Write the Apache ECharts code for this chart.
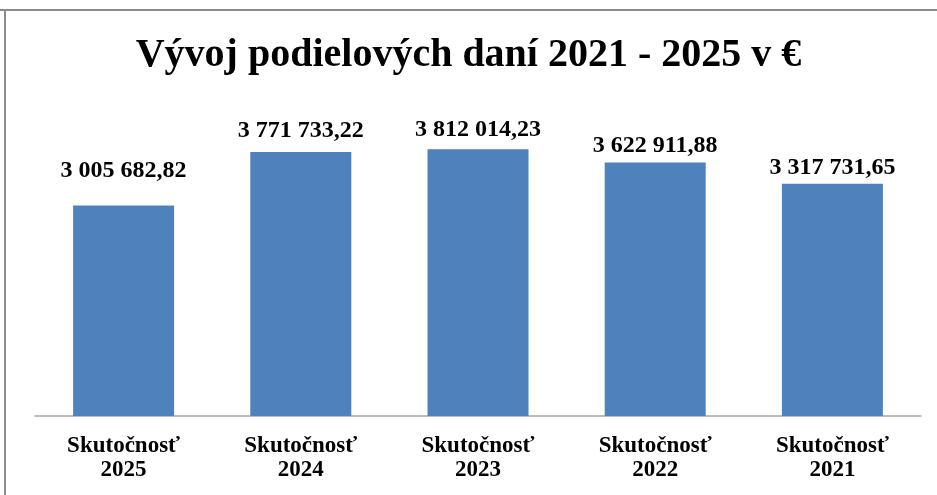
<!DOCTYPE html>
<html>
<head>
<meta charset="utf-8">
<script src="https://cdn.jsdelivr.net/npm/echarts@6/dist/echarts.min.js"></script>
<style>
  html, body { margin: 0; padding: 0; background: #fff; }
  #main { width: 937px; height: 495px; }
</style>
</head>
<body>
<div id="main"></div>
<script>
const categories = ['Skutočnosť\n2025', 'Skutočnosť\n2024', 'Skutočnosť\n2023', 'Skutočnosť\n2022', 'Skutočnosť\n2021'];
const values = [3005682.82, 3771733.22, 3812014.23, 3622911.88, 3317731.65];

// labels in the original sit at slightly different heights above the bars
const labelGap = [23, 9, 7, 5, 4];

// 3 005 682,82 style
const fmt = (v) => {
  const parts = v.toFixed(2).split('.');
  return parts[0].replace(/\B(?=(\d{3})+(?!\d))/g, ' ') + ',' + parts[1];
};

const serif = '"Liberation Serif", "DejaVu Serif", serif';
const chart = echarts.init(document.getElementById('main'));
chart.setOption({
  animation: false,
  title: {
    text: 'Vývoj podielových daní 2021 - 2025 v €',
    left: 'center',
    top: 31,
    textStyle: { fontFamily: serif, fontWeight: 'bold', fontSize: 40, color: '#000' },
  },
  grid: { left: 35, right: 16, top: 101, bottom: 79 },
  xAxis: {
    type: 'category',
    data: categories,
    axisTick: { show: false },
    axisLine: { lineStyle: { color: '#a6a6a6', width: 1.5 } },
    axisLabel: {
      margin: 18,
      fontFamily: serif,
      fontWeight: 'bold',
      fontSize: 23,
      lineHeight: 24,
      color: '#000',
    },
  },
  yAxis: {
    type: 'value',
    min: 0,
    max: 4500000,
    show: false,
    splitLine: { show: false },
  },
  series: [{
    type: 'bar',
    data: values.map((v, i) => ({ value: v, label: { distance: labelGap[i] } })),
    barWidth: '57%',
    itemStyle: { color: '#4f81bd' },
    label: {
      show: true,
      position: 'top',
      formatter: (p) => fmt(p.value),
      fontFamily: serif,
      fontWeight: 'bold',
      fontSize: 24,
      color: '#000',
    },
  }],
  graphic: [
    { type: 'line', shape: { x1: 0, y1: 10, x2: 937, y2: 10 }, style: { stroke: '#8c8c8c', lineWidth: 2 } },
    { type: 'line', shape: { x1: 5, y1: 10, x2: 5, y2: 495 }, style: { stroke: '#8c8c8c', lineWidth: 2 } },
  ],
});
</script>
</body>
</html>
